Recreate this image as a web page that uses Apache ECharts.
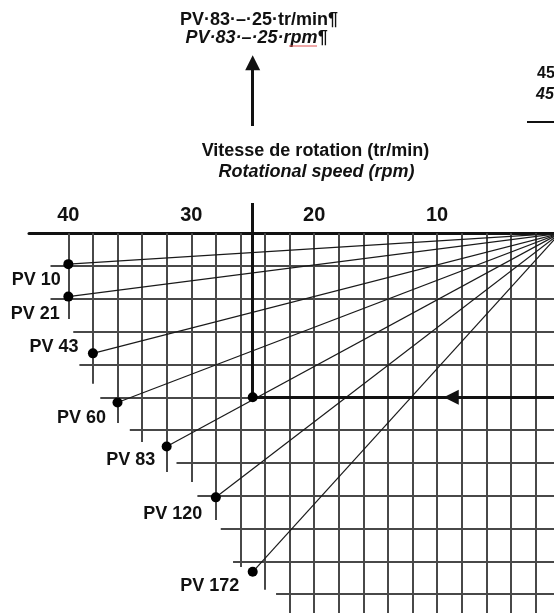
<!DOCTYPE html>
<html>
<head lang="fr">
    <meta charset="UTF-8">
    <title>Vitesse de rotation</title>
    <script type="text/javascript" src="https://cdn.jsdelivr.net/npm/echarts@6/dist/echarts.min.js"></script>
    <style>
        html, body { margin: 0; padding: 0; background: #fff; }
        #chart { width: 554px; height: 613px; }
    </style>
</head>
<body>
<div id="chart"></div>

<script type="text/javascript">
    // speed scale tick labels (tr/min)
    var speedTicks = [10, 20, 30, 40];

    // PV lines: name, speed and depth (grid rows under the scale) of the end dot
    var pvNames = ['PV 10', 'PV 21', 'PV 43', 'PV 60', 'PV 83', 'PV 120', 'PV 172'];
    var pvSpeed = [40, 40, 38, 36, 32, 28, 25];
    var pvDepth = [0.94, 1.93, 3.66, 5.16, 6.5, 8.05, 10.32];

    // vertical grid lines every 2 tr/min, and how deep each one goes
    var gridSpeeds = [40, 38, 36, 34, 32, 30, 28, 26, 24, 22, 20, 18, 16, 14, 12, 10, 8, 6, 4, 2];
    var gridSpeedEnds = [2.61, 4.59, 5.78, 6.36, 7.28, 7.58, 8.74, 10.17, 10.87, 12, 12, 12, 12, 12, 12, 12, 12, 12, 12, 12];
    // horizontal grid rows, and the speed where each one starts on the left
    var gridRows = [1, 2, 3, 4, 5, 6, 7, 8, 9, 10, 11];
    var gridRowStarts = [41.45, 41.45, 39.6, 39.1, 37.4, 35.0, 31.2, 29.5, 27.6, 26.6, 23.1];

    // worked example: PV 83 read at 25 tr/min
    var readSpeed = 25;
    var readDepth = 5.0;

    // label placement around each dot (px)
    var labelOffsets = [[-32, 16], [-33, 17], [-39, -6], [-36, 15], [-36, 14], [-43, 17], [-43, 14]];

    var FONT = 'Liberation Sans';

    var gridLines = [];
    for (var i = 0; i < gridSpeeds.length; i++) {
        gridLines.push({coords: [[gridSpeeds[i], 0], [gridSpeeds[i], gridSpeedEnds[i]]]});
    }
    for (var i = 0; i < gridRows.length; i++) {
        gridLines.push({coords: [[gridRowStarts[i], gridRows[i]], [0, gridRows[i]]]});
    }

    var rays = [];
    var dots = [];
    for (var i = 0; i < pvNames.length; i++) {
        rays.push({coords: [[0, 0], [pvSpeed[i], pvDepth[i]]]});
        dots.push({
            name: pvNames[i],
            value: [pvSpeed[i], pvDepth[i]],
            label: {offset: labelOffsets[i]}
        });
    }

    // little spell-check squiggle under "rpm"
    var squiggle = [];
    for (var px = 289; px <= 317; px += 2) {
        squiggle.push([px, (px / 2) % 2 === 0 ? 44 : 46]);
    }

    var chart = echarts.init(document.getElementById('chart'));
    chart.setOption({
        animation: false,
        grid: [
            // whole drawing, including the area above the scale
            {left: 29, right: -6, top: 3.7, bottom: -13.9, outerBoundsMode: 'none', containLabel: false},
            // the speed scale itself, its top edge is the thick axis line
            {left: 29, right: -6, top: 233.3, bottom: -13.9, outerBoundsMode: 'none', containLabel: false}
        ],
        xAxis: [
            {
                gridIndex: 0,
                type: 'value',
                inverse: true,
                min: 0,
                max: 43.2,
                show: false
            },
            {
                gridIndex: 1,
                type: 'value',
                inverse: true,
                min: 0,
                max: 43.2,
                interval: 10,
                position: 'top',
                axisLine: {onZero: false, lineStyle: {color: '#111', width: 3}},
                axisTick: {show: false},
                splitLine: {show: false},
                axisLabel: {
                    color: '#111',
                    fontSize: 20,
                    fontWeight: 'bold',
                    fontFamily: FONT,
                    margin: 8,
                    formatter: function (v) {
                        return speedTicks.indexOf(v) >= 0 ? String(v) : '';
                    }
                }
            }
        ],
        yAxis: [
            {gridIndex: 0, type: 'value', inverse: true, min: -7, max: 12, show: false},
            {gridIndex: 1, type: 'value', inverse: true, min: 0, max: 12, show: false}
        ],
        graphic: [
            {type: 'text', x: 259, y: 20, style: {text: 'PV·83·–·25·tr/min¶', font: 'bold 18px "' + FONT + '"', fill: '#111', align: 'center', verticalAlign: 'middle'}},
            {type: 'text', x: 256.5, y: 38, style: {text: 'PV·83·–·25·rpm¶', font: 'italic bold 18px "' + FONT + '"', fill: '#111', align: 'center', verticalAlign: 'middle'}},
            {type: 'polyline', shape: {points: squiggle}, style: {stroke: '#e05050', lineWidth: 1, fill: null}},
            {type: 'text', x: 315.5, y: 151, style: {text: 'Vitesse de rotation (tr/min)', font: 'bold 18px "' + FONT + '"', fill: '#111', align: 'center', verticalAlign: 'middle'}},
            {type: 'text', x: 316.5, y: 172, style: {text: 'Rotational speed (rpm)', font: 'italic bold 18px "' + FONT + '"', fill: '#111', align: 'center', verticalAlign: 'middle'}},
            {type: 'text', x: 537, y: 74, style: {text: '45', font: 'bold 16px "' + FONT + '"', fill: '#111', align: 'left', verticalAlign: 'middle'}},
            {type: 'text', x: 536, y: 95, style: {text: '45', font: 'italic bold 16px "' + FONT + '"', fill: '#111', align: 'left', verticalAlign: 'middle'}},
            {type: 'line', shape: {x1: 527, y1: 122, x2: 554, y2: 122}, style: {stroke: '#111', lineWidth: 2}}
        ],
        series: [
            {
                type: 'lines',
                coordinateSystem: 'cartesian2d',
                silent: true,
                z: 1,
                lineStyle: {color: '#484848', width: 2, opacity: 1},
                data: gridLines
            },
            {
                type: 'lines',
                coordinateSystem: 'cartesian2d',
                silent: true,
                z: 2,
                lineStyle: {color: '#1a1a1a', width: 1.2, opacity: 1},
                data: rays
            },
            {
                type: 'lines',
                coordinateSystem: 'cartesian2d',
                silent: true,
                z: 3,
                lineStyle: {color: '#111', width: 3, opacity: 1},
                data: [
                    {coords: [[readSpeed, -0.92], [readSpeed, readDepth]]},
                    {coords: [[8.85, readDepth], [readSpeed, readDepth]]}
                ]
            },
            {
                type: 'lines',
                coordinateSystem: 'cartesian2d',
                silent: true,
                z: 3,
                symbol: ['none', 'triangle'],
                symbolSize: [14, 15],
                lineStyle: {color: '#111', width: 3, opacity: 1},
                data: [
                    {coords: [[0, readDepth], [8.85, readDepth]]},
                    {coords: [[readSpeed, -3.27], [readSpeed, -5.2]]}
                ]
            },
            {
                type: 'scatter',
                z: 4,
                symbol: 'circle',
                symbolSize: 10,
                itemStyle: {color: '#000', opacity: 1},
                label: {
                    show: true,
                    position: 'inside',
                    formatter: '{b}',
                    color: '#111',
                    opacity: 1,
                    fontSize: 18,
                    fontWeight: 'bold',
                    fontFamily: FONT
                },
                data: dots
            },
            {
                type: 'scatter',
                z: 4,
                symbol: 'circle',
                symbolSize: 10,
                itemStyle: {color: '#000', opacity: 1},
                data: [[readSpeed, readDepth]]
            }
        ]
    });
</script>
</body>
</html>
